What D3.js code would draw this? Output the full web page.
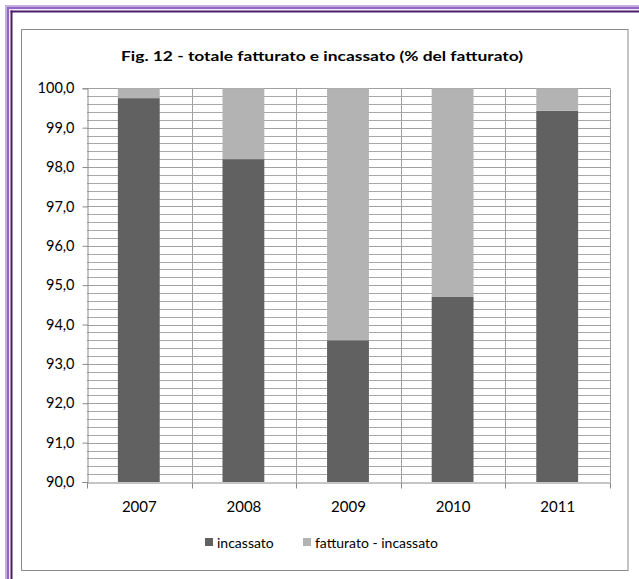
<!DOCTYPE html>
<html>
<head>
<meta charset="utf-8">
<script src="https://cdn.jsdelivr.net/npm/d3@7"></script>
<style>
  html, body { margin: 0; padding: 0; background: #fff; }
  svg { display: block; }
  text { font-family: Lato, "Open Sans", "DejaVu Sans", sans-serif; fill: #000; }
</style>
</head>
<body>
<svg id="chart" width="639" height="579"></svg>
<script>
// Years on the category axis
const years = ["2007", "2008", "2009", "2010", "2011"];
// Share of invoiced amount actually collected (%)
const incassato = [99.75, 98.2, 93.6, 94.7, 99.43];
// Remaining share: invoiced minus collected (%)
const differenza = incassato.map(v => +(100 - v).toFixed(2));
// Axis ticks
const yTicks = [90, 91, 92, 93, 94, 95, 96, 97, 98, 99, 100];
const seriesNames = ["incassato", "fatturato - incassato"];
const seriesColors = ["#616161", "#b3b3b3"];

const svg = d3.select("#chart");

// Decorative purple frame (top and left)
const frame = [
  { off: 5, w: 2.2, c: "#c4aee0" },
  { off: 7, w: 2, c: "#9467c4" },
  { off: 9.2, w: 1, c: "#e9e0f3" },
  { off: 10.5, w: 2, c: "#4b1d6b" }
];
frame.forEach(f => {
  svg.append("rect").attr("x", f.off).attr("y", f.off)
    .attr("width", 639 - f.off).attr("height", f.w).attr("fill", f.c);
  svg.append("rect").attr("x", f.off).attr("y", f.off)
    .attr("width", f.w).attr("height", 579 - f.off).attr("fill", f.c);
});

// Chart box
svg.append("rect").attr("x", 21.5).attr("y", 29.5)
  .attr("width", 606.5).attr("height", 541)
  .attr("fill", "#fff").attr("stroke", "#8a8a8a").attr("stroke-width", 1);

// Title
svg.append("text").attr("x", 322).attr("y", 61)
  .attr("text-anchor", "middle").attr("font-size", 14).attr("font-weight", "bold")
  .attr("textLength", 402).attr("lengthAdjust", "spacingAndGlyphs")
  .text("Fig. 12 - totale fatturato e incassato (% del fatturato)");

const plot = { left: 87, right: 610, top: 88.3, bottom: 482 };

const x = d3.scaleBand().domain(years).range([plot.left, plot.right]).paddingInner(0).paddingOuter(0);
const y = d3.scaleLinear().domain([90, 100]).range([plot.bottom, plot.top]);

const g = svg.append("g");

// Minor gridlines every 0.2
const minor = d3.range(90.2, 100, 0.2).filter(v => Math.abs(v - Math.round(v)) > 0.01);
g.selectAll("line.minor").data(minor).join("line")
  .attr("x1", plot.left).attr("x2", plot.right)
  .attr("y1", d => Math.round(y(d)) + 0.5).attr("y2", d => Math.round(y(d)) + 0.5)
  .attr("stroke", "#a8a8a8").attr("stroke-width", 1);

// Major gridlines
g.selectAll("line.major").data(yTicks.slice(1)).join("line")
  .attr("x1", plot.left).attr("x2", plot.right)
  .attr("y1", d => Math.round(y(d)) + 0.5).attr("y2", d => Math.round(y(d)) + 0.5)
  .attr("stroke", "#a0a0a0").attr("stroke-width", 1);

// Vertical gridlines at category boundaries
const bounds = years.map(d => x(d)).slice(1).concat([plot.right]);
g.selectAll("line.vgrid").data(bounds).join("line")
  .attr("x1", d => Math.round(d) + 0.5).attr("x2", d => Math.round(d) + 0.5)
  .attr("y1", plot.top).attr("y2", plot.bottom)
  .attr("stroke", "#a0a0a0").attr("stroke-width", 1);

// Stacked bars
const stackData = years.map((yr, i) => ({ year: yr, incassato: incassato[i], diff: differenza[i] }));
const stack = d3.stack().keys(["incassato", "diff"]);
const layers = stack(stackData);
const bw = x.bandwidth() * 0.4;
g.selectAll("g.layer").data(layers).join("g")
  .attr("fill", (d, i) => seriesColors[i])
  .selectAll("rect").data(d => d).join("rect")
  .attr("x", d => x(d.data.year) + x.bandwidth() / 2 - bw / 2 - 0.5)
  .attr("width", bw)
  .attr("y", d => y(Math.min(d[1], 100)))
  .attr("height", d => y(Math.max(d[0], 90)) - y(Math.min(d[1], 100)));

// Y axis
const yAxis = d3.axisLeft(y).tickValues(yTicks).tickSize(5).tickPadding(8)
  .tickFormat(d => d3.format(".1f")(d).replace(".", ","));
const ya = svg.append("g").attr("transform", `translate(${plot.left + 0.5},0)`).call(yAxis);
ya.select(".domain").attr("stroke", "#8a8a8a");
ya.selectAll(".tick line").attr("stroke", "#8a8a8a");
ya.selectAll(".tick text").attr("font-size", 14.5).attr("font-family", "Lato, sans-serif").attr("fill", "#000");

// X axis
const xAxis = d3.axisBottom(x).tickSize(0).tickPadding(19);
const xa = svg.append("g").attr("transform", `translate(0,${plot.bottom + 0.5})`).call(xAxis);
xa.select(".domain").attr("stroke", "#8a8a8a");
xa.selectAll(".tick text").attr("font-size", 15).attr("font-family", "Lato, sans-serif").attr("fill", "#000");
// Category separator ticks below the axis
xa.selectAll("line.sep").data([plot.left].concat(bounds)).join("line")
  .attr("x1", d => Math.round(d) + 0.5).attr("x2", d => Math.round(d) + 0.5)
  .attr("y1", 0).attr("y2", 6).attr("stroke", "#8a8a8a");

// Legend
const legendX = [205, 303];
const lg = svg.append("g");
seriesNames.forEach((name, i) => {
  lg.append("rect").attr("x", legendX[i]).attr("y", 538).attr("width", 8).attr("height", 8)
    .attr("fill", seriesColors[i]);
  lg.append("text").attr("x", legendX[i] + 12).attr("y", 548)
    .attr("font-size", 14).text(name);
});
</script>
</body>
</html>
